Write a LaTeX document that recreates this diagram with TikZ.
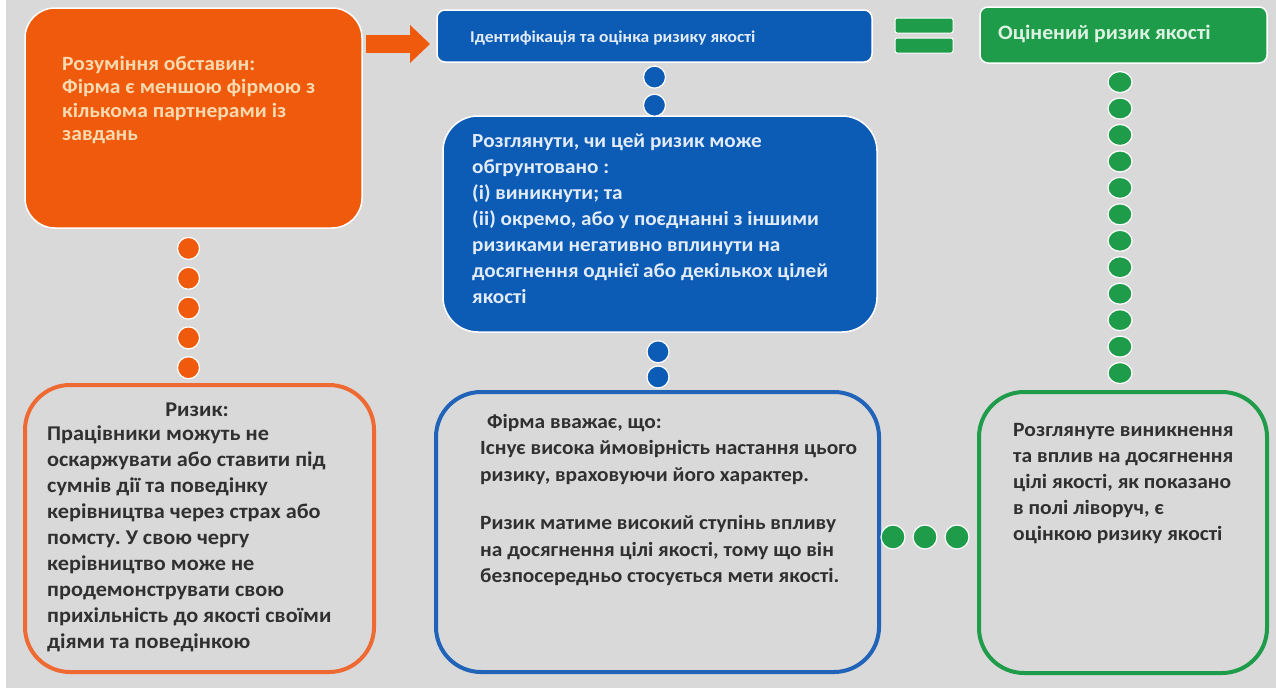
\documentclass[tikz,border=0pt]{standalone}
\usepackage{fontspec}
\setmainfont{Carlito}[FakeStretch=1.06]
\usetikzlibrary{arrows.meta,calc}
\frenchspacing

\definecolor{bg}{HTML}{D9D9D9}
\definecolor{orfill}{HTML}{F05A0C}
\definecolor{orline}{HTML}{EF6A32}
\definecolor{ortext}{HTML}{F8DAB0}
\definecolor{blfill}{HTML}{0C5BB5}
\definecolor{blline}{HTML}{2163B8}
\definecolor{bltext}{HTML}{E2ECF8}
\definecolor{grfill}{HTML}{1E9C4A}
\definecolor{grtext}{HTML}{DDF2E2}
\definecolor{dark}{HTML}{303030}

\tikzset{
  box/.style={inner sep=0pt,outer sep=0pt,draw=white,line width=1.5pt},
  framebox/.style={inner sep=0pt,outer sep=0pt,line width=4pt,rounded corners=45pt},
  dot/.style={draw=white,line width=1.2pt},
  txt/.style={inner sep=0pt,align=left,anchor=base west},
  body/.style={txt,text=dark,font=\bfseries\fontsize{20.2}{26.5}\selectfont}
}

\begin{document}
\begin{tikzpicture}[x=1pt,y=-1pt]
    \useasboundingbox (0,0) rectangle (1276,694);
    \fill[white] (0,0) rectangle (1276,694);
    \fill[bg] (6,0) rectangle (1276,688);

    \node[box,fill=orfill,rounded corners=30pt,minimum width=337pt,minimum height=220pt] (ctx) at (193.5,118) {};
    \node[box,fill=blfill,rounded corners=8pt,minimum width=435pt,minimum height=52pt] (ident) at (654.5,36) {};
    \node[box,fill=blfill,rounded corners=35pt,minimum width=434pt,minimum height=216pt] (cons) at (660,224) {};
    \node[box,fill=grfill,rounded corners=8pt,minimum width=287pt,minimum height=56pt] (rated) at (1123.5,35) {};
    \node[framebox,draw=orline,minimum width=349pt,minimum height=287pt] (risk) at (199.5,528.5) {};
    \node[framebox,draw=blline,minimum width=443pt,minimum height=280pt] (firm) at (657.5,532) {};
    \node[framebox,draw=grfill,minimum width=288pt,minimum height=281pt] (qual) at (1123,532.5) {};

    \node[txt,text=ortext,font=\bfseries\fontsize{20.3}{23.5}\selectfont] (ctxtext) at (62,140.5)
      {Розуміння обставин:\\Фірма є меншою фірмою з\\кількома партнерами із\\завдань};
    \node[txt,text=bltext,font=\bfseries\fontsize{16.5}{20}\selectfont] (identtext) at (470,42)
      {Ідентифікація та оцінка ризику якості};
    \node[txt,text=grtext,font=\bfseries\fontsize{20.5}{24}\selectfont] (ratedtext) at (998,39)
      {Оцінений ризик якості};
    \node[body,text=bltext,font=\bfseries\fontsize{20}{26}\selectfont] (constext) at (472,303)
      {Розглянути, чи цей ризик може\\обгрунтовано :\\(і) виникнути; та\\(іі) окремо, або у поєднанні з іншими\\ризиками негативно вплинути на\\досягнення однієї або декількох цілей\\якості};
    \node[body,anchor=base,font=\bfseries\fontsize{21}{26}\selectfont] (risklbl) at (197,416) {Ризик:};
    \node[body,font=\bfseries\fontsize{21}{26}\selectfont] (risktext) at (47,648)
      {Працівники можуть не\\оскаржувати або ставити під\\сумнів дії та поведінку\\керівництва через страх або\\помсту. У свою чергу\\керівництво може не\\продемонструвати свою\\прихільність до якості своїми\\діями та поведінкою};
    \node[body] (firmtext) at (480,582.5)
      {\hspace*{7pt}Фірма вважає, що:\\Існує висока ймовірність настання цього\\ризику, враховуючи його характер.\\[22pt]Ризик матиме високий ступінь впливу\\на досягнення цілі якості, тому що він\\безпосередньо стосується мети якості.};
    \node[body,font=\bfseries\fontsize{20.3}{26}\selectfont] (qualtext) at (1013,540)
      {Розглянуте виникнення\\та вплив на досягнення\\цілі якості, як показано\\в полі ліворуч, є\\оцінкою ризику якості};

    \coordinate (a1) at ([shift={(4,8)}]ctx.east |- ident.west);
    \coordinate (a2) at ([shift={(-7,8)}]ident.west);
    \draw[orfill,line width=18pt,-{Triangle[length=20pt,width=38pt,line width=0pt]}] (a1) -- (a2);

    \fill[grfill,draw=white,line width=1pt,rounded corners=2pt] (895,18) rectangle (953,33) (895,38) rectangle (953,53);

    \coordinate (otop) at ([xshift=-5pt]ctx.south);
    \coordinate (obot) at (otop |- risk.north);
    \foreach \f in {0.13,0.32,0.51,0.70,0.89}
      \filldraw[dot,fill=orfill] ($(otop)!\f!(obot)$) circle (11pt);

    \coordinate (b1) at (ident.south);
    \coordinate (b2) at (ident.south |- cons.north);
    \foreach \f in {0.28,0.80}
      \filldraw[dot,fill=blfill] ($(b1)!\f!(b2)$) circle (11pt);
    \coordinate (b3) at ([xshift=-2pt]cons.south);
    \coordinate (b4) at (b3 |- firm.north);
    \foreach \f in {0.33,0.75}
      \filldraw[dot,fill=blfill] ($(b3)!\f!(b4)$) circle (11pt);

    \coordinate (g1) at ([xshift=-3.5pt]rated.south);
    \coordinate (g2) at (g1 |- qual.north);
    \foreach \k in {0,...,11}
      \filldraw[dot,fill=grfill] ($(g1)!{0.058+\k*0.0804}!(g2)$) ellipse (12pt and 10.5pt);
    \coordinate (g3) at ([yshift=-5pt]firm.east);
    \coordinate (g4) at (g3 -| qual.west);
    \foreach \f in {0.14,0.46,0.78}
      \filldraw[dot,fill=grfill] ($(g3)!\f!(g4)$) circle (12pt);
\end{tikzpicture}
\end{document}
